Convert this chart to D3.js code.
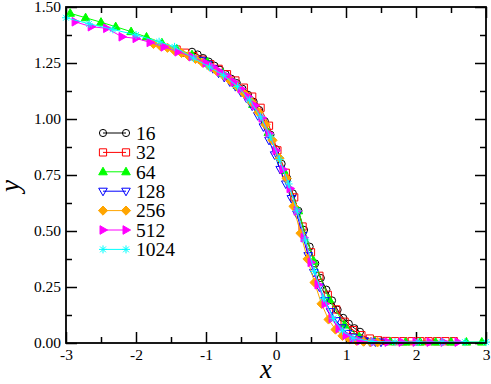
<!DOCTYPE html>
<html>
<head>
<meta charset="utf-8">
<script src="https://cdn.jsdelivr.net/npm/d3@7"></script>
<style>
  body { margin: 0; background: #fff; }
  svg { display: block; }
</style>
</head>
<body>
<div id="chart"></div>
<script>
// legend labels (system sizes)
const sizes = ["16", "32", "64", "128", "256", "512", "1024"];

// each series: [x, y] pairs
const s16 = [[-1.20,1.300],[-1.12,1.288],[-1.04,1.272],[-0.96,1.256],[-0.88,1.238],[-0.80,1.220],[-0.72,1.200],
  [-0.64,1.180],[-0.56,1.160],[-0.48,1.135],[-0.40,1.108],[-0.32,1.077],[-0.24,1.040],[-0.16,0.990],[-0.08,0.930],
  [0.00,0.865],[0.08,0.800],[0.16,0.735],[0.24,0.668],[0.32,0.590],[0.40,0.505],[0.48,0.430],[0.56,0.355],
  [0.64,0.290],[0.72,0.238],[0.80,0.190],[0.88,0.148],[0.96,0.112],[1.04,0.086],[1.12,0.066],[1.20,0.050]];

const s32 = [[-1.42,1.310],[-1.30,1.296],[-1.18,1.281],[-1.06,1.265],[-0.94,1.245],[-0.82,1.224],[-0.70,1.200],
  [-0.58,1.172],[-0.46,1.140],[-0.34,1.100],[-0.22,1.050],[-0.10,0.970],[0.02,0.860],[0.14,0.760],[0.26,0.650],
  [0.38,0.520],[0.50,0.405],[0.62,0.300],[0.74,0.215],[0.86,0.150],[0.98,0.095],[1.10,0.058],[1.22,0.035],
  [1.34,0.020],[1.46,0.012],[1.58,0.009],[1.70,0.008],[1.82,0.008],[1.94,0.008],[2.06,0.008],[2.18,0.008],
  [2.30,0.008],[2.42,0.008],[2.54,0.008]];

const s64 = [[-2.94,1.472],[-2.72,1.452],[-2.50,1.432],[-2.29,1.412],[-2.07,1.390],[-1.85,1.366],[-1.63,1.340],
  [-1.42,1.313],[-1.20,1.287],[-0.98,1.255],[-0.76,1.205],[-0.55,1.150],[-0.33,1.065],[-0.11,0.940],[0.11,0.770],
  [0.32,0.590],[0.54,0.365],[0.76,0.195],[0.98,0.080],[1.19,0.028],[1.41,0.008],[1.63,0.005],[1.85,0.004],
  [2.06,0.004],[2.28,0.004],[2.50,0.004],[2.72,0.004],[2.94,0.004]];

const s128 = [[-1.06,1.262],[-0.98,1.245],[-0.90,1.225],[-0.82,1.205],[-0.74,1.186],[-0.66,1.166],[-0.58,1.145],
  [-0.50,1.120],[-0.42,1.092],[-0.34,1.058],[-0.26,1.015],[-0.18,0.965],[-0.10,0.905],[-0.02,0.840],[0.06,0.775],
  [0.14,0.710],[0.22,0.645],[0.30,0.575],[0.38,0.480],[0.46,0.390],[0.54,0.315],[0.62,0.250],[0.70,0.190],
  [0.78,0.140],[0.86,0.100],[0.94,0.068],[1.02,0.043],[1.10,0.026],[1.18,0.015],[1.26,0.009],[1.34,0.006],
  [1.42,0.005],[1.50,0.004]];

const s256 = [[-1.75,1.335],[-1.65,1.325],[-1.55,1.318],[-1.45,1.305],[-1.35,1.295],[-1.25,1.282],[-1.15,1.268],
  [-1.05,1.252],[-0.95,1.235],[-0.85,1.215],[-0.75,1.195],[-0.65,1.170],[-0.55,1.143],[-0.45,1.112],[-0.35,1.075],
  [-0.25,1.030],[-0.15,0.975],[-0.05,0.905],[0.05,0.825],[0.15,0.735],[0.25,0.610],[0.35,0.490],[0.45,0.375],
  [0.55,0.270],[0.65,0.175],[0.75,0.105],[0.85,0.060],[0.95,0.032],[1.05,0.017],[1.15,0.010],[1.25,0.006],
  [1.35,0.004],[1.45,0.003]];

const s512 = [[-2.87,1.434],[-2.64,1.412],[-2.42,1.405],[-2.20,1.367],[-2.00,1.360],[-1.80,1.342],[-1.60,1.322],
  [-1.40,1.300],[-1.20,1.278],[-1.00,1.250],[-0.90,1.232],[-0.80,1.212],[-0.70,1.192],[-0.60,1.165],[-0.50,1.135],
  [-0.40,1.100],[-0.30,1.060],[-0.20,1.005],[-0.10,0.935],[0.00,0.860],[0.10,0.775],[0.20,0.690],[0.30,0.590],
  [0.40,0.470],[0.50,0.360],[0.60,0.260],[0.70,0.175],[0.80,0.110],[0.90,0.065],[1.00,0.035],[1.10,0.018],
  [1.20,0.010],[1.40,0.005],[1.60,0.004],[1.80,0.004],[2.00,0.004],[2.20,0.004],[2.40,0.004],[2.60,0.004]];

const s1024 = [[-3.00,1.452],[-2.67,1.425],[-2.33,1.400],[-2.00,1.375],[-1.67,1.345],[-1.45,1.322],[-1.18,1.272],
  [-0.95,1.232],[-0.75,1.195],[-0.55,1.145],[-0.38,1.085],[-0.22,1.010],[-0.08,0.920],[0.05,0.820],[0.18,0.710],
  [0.30,0.590],[0.42,0.460],[0.55,0.320],[0.68,0.200],[0.82,0.110],[0.95,0.055],[1.10,0.022],[1.37,0.006],
  [1.70,0.004],[2.03,0.004],[2.37,0.004],[2.70,0.004],[3.00,0.004]];

const allSeries = [s16, s32, s64, s128, s256, s512, s1024];

// axis ticks
const xMajor = [-3, -2, -1, 0, 1, 2, 3];
const xMinor = [-2.5, -1.5, -0.5, 0.5, 1.5, 2.5];
const yMajor = [0, 0.25, 0.5, 0.75, 1.0, 1.25, 1.5];
const yMinor = [0.125, 0.375, 0.625, 0.875, 1.125, 1.375];

// look of each set
const looks = [
  { color: "#000000", shape: "circle", fill: false },
  { color: "#ff0000", shape: "square", fill: false },
  { color: "#00ff00", shape: "triUp", fill: true },
  { color: "#0000ff", shape: "triDown", fill: false },
  { color: "#ffa500", shape: "diamond", fill: true },
  { color: "#ff00ff", shape: "triRight", fill: true },
  { color: "#00ffff", shape: "star", fill: false }
];

const shapes = {
  circle: "M3.6,0A3.6,3.6 0 1,1 -3.6,0A3.6,3.6 0 1,1 3.6,0Z",
  square: "M-3.6,-3.6H3.6V3.6H-3.6Z",
  triUp: "M0,-4.6L4.3,3L-4.3,3Z",
  triDown: "M0,4.6L4.3,-3L-4.3,-3Z",
  diamond: "M0,-4.6L4.6,0L0,4.6L-4.6,0Z",
  triRight: "M4.6,0L-3,-4.3L-3,4.3Z",
  star: "M-4,0H4M0,-4V4M-2.9,-2.9L2.9,2.9M-2.9,2.9L2.9,-2.9"
};

// a single family name, the renderer did not take a list
const FONT = "Liberation Serif";

const W = 491, H = 384;
const margin = { top: 7, right: 5, bottom: 41, left: 66 };
const width = W - margin.left - margin.right;
const height = H - margin.top - margin.bottom;

const svg = d3.select("#chart").append("svg")
  .attr("width", W)
  .attr("height", H);

const g = svg.append("g")
  .attr("transform", `translate(${margin.left},${margin.top})`);

const x = d3.scaleLinear().domain([-3, 3]).range([0, width]);
const y = d3.scaleLinear().domain([0, 1.5]).range([height, 0]);

// ticks (all pointing inward, grace style)
const styleAxis = sel => {
  sel.attr("font-family", null);
  sel.select(".domain").remove();
  sel.selectAll("line").attr("stroke", "#000").attr("stroke-width", 1.5);
  sel.selectAll("text").attr("font-size", 15.5).attr("fill", "#000")
    .style("font-family", FONT);
};

g.append("g").attr("transform", `translate(0,${height})`)
  .call(d3.axisBottom(x).tickValues(xMajor).tickSizeInner(-11).tickSizeOuter(0).tickPadding(6)
    .tickFormat(d => String(d)))
  .call(styleAxis);
g.append("g").attr("transform", `translate(0,${height})`)
  .call(d3.axisBottom(x).tickValues(xMinor).tickSizeInner(-6).tickSizeOuter(0).tickFormat(""))
  .call(styleAxis);
g.append("g")
  .call(d3.axisTop(x).tickValues(xMajor).tickSizeInner(-11).tickSizeOuter(0).tickFormat(""))
  .call(styleAxis);
g.append("g")
  .call(d3.axisTop(x).tickValues(xMinor).tickSizeInner(-6).tickSizeOuter(0).tickFormat(""))
  .call(styleAxis);

g.append("g")
  .call(d3.axisLeft(y).tickValues(yMajor).tickSizeInner(-11).tickSizeOuter(0).tickPadding(5)
    .tickFormat(d3.format(".2f")))
  .call(styleAxis);
g.append("g")
  .call(d3.axisLeft(y).tickValues(yMinor).tickSizeInner(-6).tickSizeOuter(0).tickFormat(""))
  .call(styleAxis);
g.append("g").attr("transform", `translate(${width},0)`)
  .call(d3.axisRight(y).tickValues(yMajor).tickSizeInner(-11).tickSizeOuter(0).tickFormat(""))
  .call(styleAxis);
g.append("g").attr("transform", `translate(${width},0)`)
  .call(d3.axisRight(y).tickValues(yMinor).tickSizeInner(-6).tickSizeOuter(0).tickFormat(""))
  .call(styleAxis);

// the sets
const line = d3.line().x(d => x(d[0])).y(d => y(d[1]));

allSeries.forEach((data, i) => {
  const look = looks[i];
  const set = g.append("g");
  set.append("path")
    .attr("d", line(data))
    .attr("fill", "none")
    .attr("stroke", look.color)
    .attr("stroke-width", 1);
  set.selectAll("path.mark")
    .data(data)
    .enter()
    .append("path")
    .attr("class", "mark")
    .attr("transform", d => `translate(${x(d[0])},${y(d[1])})`)
    .attr("d", shapes[look.shape])
    .attr("fill", look.fill ? look.color : "none")
    .attr("stroke", look.color)
    .attr("stroke-width", 1);
});

// frame
g.append("rect")
  .attr("width", width)
  .attr("height", height)
  .attr("fill", "none")
  .attr("stroke", "#000")
  .attr("stroke-width", 1.8);

// legend
const legend = svg.append("g").attr("transform", "translate(103,133)");
sizes.forEach((name, i) => {
  const look = looks[i];
  const row = legend.append("g").attr("transform", `translate(0,${i * 19.4})`);
  row.append("line")
    .attr("x1", 0).attr("x2", 23)
    .attr("stroke", look.color)
    .attr("stroke-width", 1);
  [0, 23].forEach(px => {
    row.append("path")
      .attr("transform", `translate(${px},0)`)
      .attr("d", shapes[look.shape])
      .attr("fill", look.fill ? look.color : "none")
      .attr("stroke", look.color)
      .attr("stroke-width", 1);
  });
  row.append("text")
    .attr("x", 33)
    .attr("dy", "0.35em")
    .attr("font-size", 19.5)
    .style("font-family", FONT)
    .text(name);
});

// axis titles
svg.append("text")
  .attr("x", 266)
  .attr("y", 378)
  .attr("text-anchor", "middle")
  .attr("font-size", 27)
  .attr("font-style", "italic")
  .style("font-family", FONT)
  .text("x");

svg.append("text")
  .attr("transform", "translate(19,186) rotate(-90)")
  .attr("text-anchor", "middle")
  .attr("font-size", 27)
  .attr("font-style", "italic")
  .style("font-family", FONT)
  .text("y");
</script>
</body>
</html>
